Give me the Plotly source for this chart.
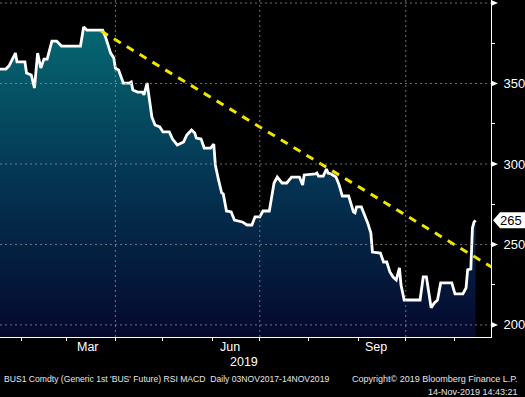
import plotly.graph_objects as go

dates = ["2019-01-18","2019-01-22","2019-01-24","2019-01-28","2019-01-29","2019-02-03","2019-02-04","2019-02-07",
         "2019-02-09","2019-02-11","2019-02-13","2019-02-15","2019-02-17","2019-02-20","2019-02-23","2019-02-26",
         "2019-03-10","2019-03-12","2019-03-14","2019-03-24","2019-03-26","2019-03-29","2019-03-31","2019-04-01",
         "2019-04-03","2019-04-06","2019-04-10","2019-04-11","2019-04-12","2019-04-15","2019-04-18","2019-04-19",
         "2019-04-21","2019-04-22","2019-04-24","2019-04-26","2019-04-29","2019-05-01","2019-05-05","2019-05-07",
         "2019-05-10","2019-05-14","2019-05-16","2019-05-19","2019-05-21","2019-05-22","2019-05-25","2019-05-27",
         "2019-05-31","2019-06-02","2019-06-03","2019-06-05","2019-06-07","2019-06-08","2019-06-10","2019-06-13",
         "2019-06-15","2019-06-20","2019-06-23","2019-06-26","2019-06-28","2019-07-01","2019-07-03","2019-07-07",
         "2019-07-10","2019-07-12","2019-07-15","2019-07-18","2019-07-21","2019-07-26","2019-07-28","2019-07-29",
         "2019-08-05","2019-08-06","2019-08-07","2019-08-10","2019-08-12","2019-08-13","2019-08-15","2019-08-18",
         "2019-08-20","2019-08-22","2019-08-26","2019-08-29","2019-08-30","2019-08-31","2019-09-03","2019-09-07",
         "2019-09-09","2019-09-10","2019-09-15","2019-09-17","2019-09-19","2019-09-21","2019-09-23","2019-09-25",
         "2019-09-27","2019-09-28","2019-09-30","2019-10-10","2019-10-12","2019-10-14","2019-10-15","2019-10-17",
         "2019-10-19","2019-10-21","2019-10-23","2019-10-30","2019-11-01","2019-11-06","2019-11-08","2019-11-09",
         "2019-11-11","2019-11-12","2019-11-13","2019-11-14"]

prices = [359.0, 359.0, 361.0, 368.9, 363.4, 363.4, 356.5, 355.3,
          347.2, 368.9, 359.6, 365.2, 365.2, 376.4, 376.4, 373.3,
          373.3, 385.1, 383.2, 383.2, 378.3, 368.9, 365.8, 359.6,
          358.4, 350.3, 350.3, 350.9, 346.0, 344.7, 344.7, 342.9,
          350.3, 342.9, 329.2, 324.2, 323.0, 319.9, 319.9, 315.5,
          311.8, 313.7, 318.0, 321.1, 319.3, 316.1, 315.5, 309.9,
          309.9, 312.4, 299.4, 290.1, 282.0, 281.4, 270.8, 270.2,
          265.2, 264.0, 262.1, 262.1, 267.1, 267.1, 270.8, 270.8,
          288.2, 291.9, 288.2, 288.2, 291.9, 291.9, 287.0, 293.2,
          293.8, 294.4, 292.5, 292.5, 296.9, 294.4, 293.8, 291.9,
          287.0, 280.1, 280.1, 270.2, 269.6, 273.3, 273.3, 263.4,
          257.1, 245.3, 244.7, 239.1, 239.1, 232.9, 229.8, 228.0,
          235.4, 224.8, 215.5, 215.5, 229.8, 229.8, 223.6, 210.6,
          213.7, 215.5, 226.1, 226.1, 219.3, 219.3, 223.0, 234.2,
          234.8, 260.2, 263.9, 265.0]
assert len(dates) == len(prices)

trend_dates = ["2019-03-23", "2019-11-24"]
trend_values = [382.6, 236.0]

y_ticks = [200, 250, 300, 350, 400]
y_tick_labels = ["200", "250", "300", "350", ""]
y_minor = [225, 275, 325, 375]
month_ticks = ["2019-02-01","2019-03-01","2019-04-01","2019-05-01","2019-06-01",
               "2019-07-01","2019-08-01","2019-09-01","2019-10-01","2019-11-01"]
grid_months = ["2019-04-01", "2019-07-01", "2019-10-01"]
month_labels = ["Mar", "Jun", "Sep"]
month_label_pos = ["2019-03-15", "2019-06-12", "2019-09-12"]
year_label = "2019"
year_label_pos = "2019-06-21"

x_range = ["2019-01-18 07:00", "2019-11-23 17:00"]
y_range = [192.5, 401.9]

FONT = "Liberation Sans, DejaVu Sans, sans-serif"
PLOT_W = 491.0

fig = go.Figure()
fig.add_trace(go.Scatter(
    x=dates, y=prices, mode="lines",
    line=dict(color="white", width=2.8),
    fill="tozeroy",
    fillgradient=dict(type="vertical", start=y_range[0], stop=385,
                      colorscale=[[0, "rgb(5,8,45)"], [0.5, "rgb(4,52,82)"], [1, "rgb(6,104,114)"]]),
    hoverinfo="skip", showlegend=False,
))
fig.add_trace(go.Scatter(
    x=trend_dates, y=trend_values, mode="lines",
    line=dict(color="#f2e600", width=3, dash="8px,7px"),
    hoverinfo="skip", showlegend=False, cliponaxis=True,
))

shapes = []
for v in y_ticks:
    shapes.append(dict(type="line", xref="paper", yref="y", x0=0, x1=1, y0=v, y1=v,
                       line=dict(color="rgba(150,150,150,0.75)", width=1, dash="2px,3px"), layer="above"))
    shapes.append(dict(type="path", xref="paper", yref="y",
                       path=f"M 1 {v-1.9} L {1+7/PLOT_W} {v} L 1 {v+1.9} Z",
                       fillcolor="white", line=dict(width=0), layer="above"))
for d in grid_months:
    shapes.append(dict(type="line", xref="x", yref="paper", x0=d, x1=d, y0=0, y1=1,
                       line=dict(color="rgba(150,150,150,0.75)", width=1, dash="2px,3px"), layer="above"))

last = prices[-1]
h = 5.0
shapes.append(dict(type="path", xref="paper", yref="y",
                   path=(f"M {1+2/PLOT_W} {last} L {1+9/PLOT_W} {last+h} L {1+40/PLOT_W} {last+h} "
                         f"L {1+40/PLOT_W} {last-h} L {1+9/PLOT_W} {last-h} Z"),
                   fillcolor="white", line=dict(width=0), layer="above"))

annotations = []
for lab, pos in zip(month_labels, month_label_pos):
    annotations.append(dict(text=lab, x=pos, xref="x", y=-10/337, yref="paper",
                            xanchor="center", yanchor="middle", showarrow=False,
                            font=dict(family=FONT, size=12.5, color="white")))
annotations.append(dict(text=year_label, x=year_label_pos, xref="x", y=-25/337, yref="paper",
                        xanchor="center", yanchor="middle", showarrow=False,
                        font=dict(family=FONT, size=12.5, color="white")))
annotations.append(dict(text=f"{last:.0f}", x=1 + 20/PLOT_W, xref="paper", y=last, yref="y",
                        xanchor="center", yanchor="middle", showarrow=False,
                        font=dict(family=FONT, size=13, color="black")))
annotations.append(dict(text="BUS1 Comdty (Generic 1st 'BUS' Future) RSI MACD\u00a0\u00a0Daily 03NOV2017-14NOV2019",
                        x=2/PLOT_W, xref="paper", y=-42/337, yref="paper",
                        xanchor="left", yanchor="middle", showarrow=False,
                        font=dict(family=FONT, size=8.6, color="#e6e6e6")))
annotations.append(dict(text="Copyright\u00a9 2019 Bloomberg Finance L.P.",
                        x=520/PLOT_W, xref="paper", y=-42/337, yref="paper",
                        xanchor="right", yanchor="middle", showarrow=False,
                        font=dict(family=FONT, size=9, color="#e6e6e6")))
annotations.append(dict(text="14-Nov-2019 14:43:21",
                        x=520/PLOT_W, xref="paper", y=-55/337, yref="paper",
                        xanchor="right", yanchor="middle", showarrow=False,
                        font=dict(family=FONT, size=9, color="#e6e6e6")))

fig.update_layout(
    width=525, height=397,
    margin=dict(l=0, r=34, t=0, b=60),
    paper_bgcolor="black", plot_bgcolor="black",
    shapes=shapes, annotations=annotations,
    showlegend=False,
    xaxis=dict(type="date", range=x_range, showgrid=False, zeroline=False,
               tickvals=month_ticks, ticktext=[""] * len(month_ticks),
               ticks="outside", ticklen=3, tickcolor="white", tickwidth=1,
               showline=True, linecolor="white", linewidth=1),
    yaxis=dict(range=y_range, side="right", showgrid=False, zeroline=False,
               tickvals=y_ticks, ticktext=y_tick_labels, ticks="",
               ticklabelstandoff=9,
               tickfont=dict(family=FONT, size=13, color="white"),
               minor=dict(tickvals=y_minor, ticks="outside", ticklen=3, tickcolor="white", tickwidth=1),
               showline=True, linecolor="white", linewidth=1),
)

fig.write_html("out.html", config={"displayModeBar": False},
               post_script="document.body.style.margin='0';document.body.style.background='black';document.body.style.overflow='hidden';")
